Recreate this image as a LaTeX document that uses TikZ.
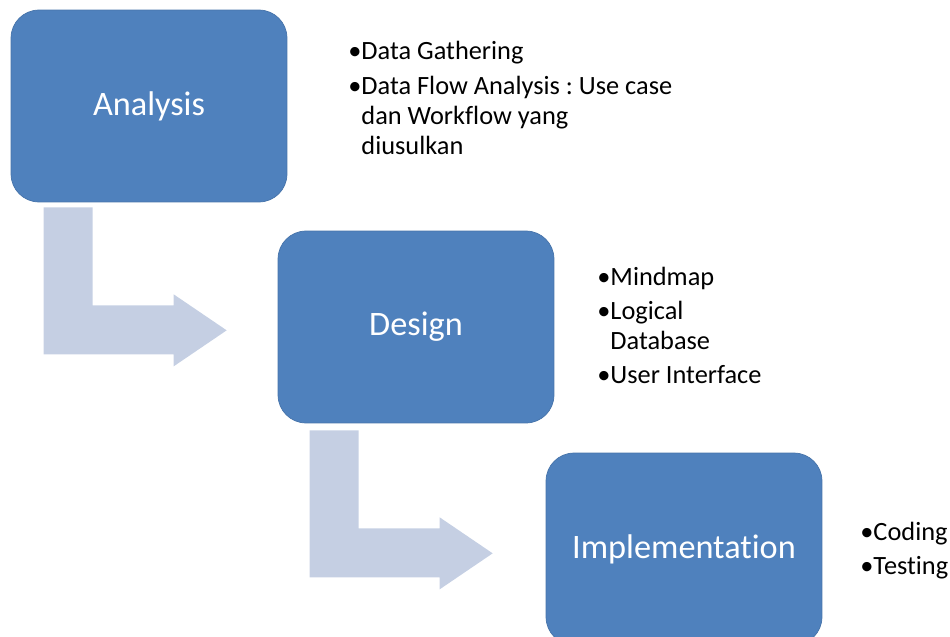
\documentclass[tikz,border=0pt]{standalone}
\usepackage{fontspec}
\setmainfont{Carlito}[Ligatures=NoCommon]
\usetikzlibrary{calc}
\frenchspacing

\definecolor{boxblue}{HTML}{4F81BD}
\definecolor{flowgrey}{HTML}{C5CFE3}

\tikzset{
    phase/.style={fill=boxblue, draw=boxblue!90!black, line width=0.4pt, rounded corners=0.56cm,
        minimum width=5.52cm, minimum height=3.84cm, text=white, inner sep=0pt,
        font=\fontsize{19.5}{22}\selectfont},
    flow/.style={fill=flowgrey},
    tasks/.style={anchor=base west, align=left, inner sep=0pt, font=\fontsize{15}{16.8}\selectfont}
}

\newcommand{\hang}{\hphantom{\textbullet}}

\begin{document}
\begin{tikzpicture}[x=0.02cm, y=-0.02cm]
    % Fix the size of the picture
    \useasboundingbox (0,0) rectangle (950,636);

    % Draw the bent arrows first, behind the boxes
    \node[phase] (analysis) at (149,106) {Analysis};
    \fill[flow] ($(analysis.south west)+(33,5)$) -- ++(49,0) -- ++(0,98) -- ++(81,0) -- ++(0,-11)
        -- ++(53,36) -- ++(-53,36) -- ++(0,-12) -- ++(-130,0) -- cycle;

    \node[phase] (design) at (416,327) {Design};
    \fill[flow] ($(design.south west)+(32,7)$) -- ++(49,0) -- ++(0,98) -- ++(81,0) -- ++(0,-11)
        -- ++(53,36) -- ++(-53,36) -- ++(0,-12) -- ++(-130,0) -- cycle;

    \node[phase] (implementation) at (684,549) {Implementation};

    % Add the task lists (placed at the baseline of their last line)
    \node[tasks] (analysistasks) at (348,154) {\textbullet Data Gathering\\[3.5pt]
        \textbullet Data Flow Analysis : Use case\\ \hang dan Workflow yang\\ \hang diusulkan};
    \node[tasks] (designtasks) at (597,383) {\textbullet Mindmap\\[2.5pt]
        \textbullet Logical\\ \hang Database\\[2.5pt] \textbullet User Interface};
    \node[tasks] (implementationtasks) at (860,574) {\textbullet Coding\\[2.5pt] \textbullet Testing};

\end{tikzpicture}
\end{document}
